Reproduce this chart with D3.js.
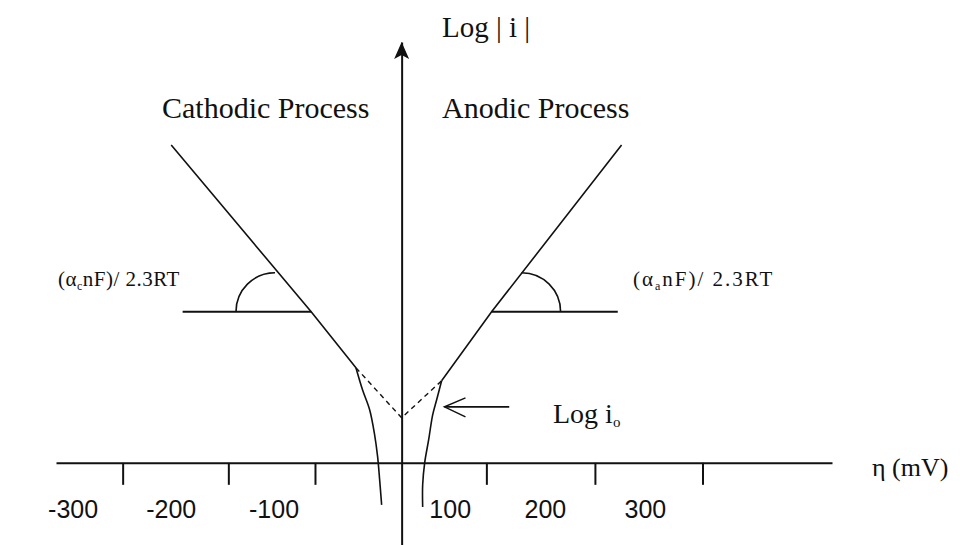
<!DOCTYPE html>
<html><head><meta charset="utf-8">
<script src="https://cdn.jsdelivr.net/npm/d3@7"></script>
<style>
html,body{margin:0;padding:0;background:#fff;}
svg{display:block;}
.serif{font-family:"Liberation Serif","Times New Roman",serif;fill:#111;}
.sans{font-family:"Liberation Sans",Arial,sans-serif;fill:#111;}
</style></head><body>
<svg id="chart" width="964" height="545"></svg>
<script>
// Tafel diagram: overpotential η (mV) against log|i| (arbitrary units)
const tickMarks = [-293, -182, -91, 89, 203, 316];
const tickLabels = ["-300", "-200", "-100", "100", "200", "300"];
const tickLabelEta = [-345, -242, -134, 51, 151, 256];

// straight Tafel regions
const cathodicTafel = [[-242, 7.55], [-95, 3.59], [-48, 2.26]];
const anodicTafel = [[42, 1.95], [94.5, 3.59], [231, 7.55]];
// low-overpotential branches bending away from the Tafel lines
const cathodicCurve = [[-48, 2.26], [-41, 1.73], [-33.6, 1.26], [-28.4, 0.67], [-25.2, 0.14], [-23.1, -0.40], [-21, -1.0]];
const anodicCurve = [[42, 1.95], [36.8, 1.50], [32.6, 1.14], [28.4, 0.55], [24.2, 0], [22.1, -0.52], [22.1, -1.05]];
// extrapolation of both Tafel lines to η = 0 (log i0)
const extrapolation = [[-48, 2.26], [0, 1.07], [42, 1.95]];
// horizontal references for the slope angles
const cathodicRef = [[-230, 3.59], [-95, 3.59]];
const anodicRef = [[94.5, 3.59], [227, 3.59]];
const slopeArcCentres = [[-133, 3.59], [126, 3.59]];
// pointer to log i0
const i0Arrow = [[113, 1.33], [45, 1.33]];

const svg = d3.select("#chart");
const x = d3.scaleLinear().domain([-363, 452]).range([56, 832]);
const y = d3.scaleLinear().domain([-2, 10]).range([547, 42]);
const line = d3.line().x(d => x(d[0])).y(d => y(d[1]));
const smooth = d3.line().x(d => x(d[0])).y(d => y(d[1])).curve(d3.curveCatmullRom);
const ink = "#111";

// η axis
const xAxis = svg.append("g")
  .attr("transform", `translate(0,${y(0)})`)
  .call(d3.axisBottom(x).tickValues(tickMarks).tickFormat("").tickSize(22).tickSizeOuter(0));
xAxis.select(".domain").attr("stroke", ink).attr("stroke-width", 2);
xAxis.selectAll(".tick line").attr("stroke", ink).attr("stroke-width", 2);

svg.append("g").selectAll("text").data(tickLabels).join("text")
  .attr("class", "sans")
  .attr("x", (d, i) => x(tickLabelEta[i]))
  .attr("y", 518)
  .attr("text-anchor", "middle")
  .attr("font-size", 25)
  .text(d => d);

// log|i| axis
const yAxis = svg.append("g")
  .attr("transform", `translate(${x(0)},0)`)
  .call(d3.axisLeft(y).tickValues([]).tickSizeOuter(0));
yAxis.select(".domain").attr("stroke", ink).attr("stroke-width", 2);
const tipX = x(0), tipY = y(10);
svg.append("path")
  .attr("d", `M${tipX},${tipY} L${tipX + 7.5},${tipY + 17} L${tipX},${tipY + 13} L${tipX - 7.5},${tipY + 17} Z`)
  .attr("fill", ink);

// Tafel lines and curved branches
[cathodicTafel, anodicTafel].forEach(d => {
  svg.append("path").attr("d", line(d)).attr("fill", "none").attr("stroke", ink).attr("stroke-width", 1.6);
});
[cathodicCurve, anodicCurve].forEach(d => {
  svg.append("path").attr("d", smooth(d)).attr("fill", "none").attr("stroke", ink).attr("stroke-width", 1.6);
});
svg.append("path").attr("d", line(extrapolation)).attr("fill", "none")
  .attr("stroke", ink).attr("stroke-width", 1.4).attr("stroke-dasharray", "5,4");

// reference lines and slope angles
[cathodicRef, anodicRef].forEach(d => {
  svg.append("path").attr("d", line(d)).attr("fill", "none").attr("stroke", ink).attr("stroke-width", 2);
});
const r = 39;
const pc = d3.path();
pc.moveTo(x(slopeArcCentres[0][0]) - r, y(slopeArcCentres[0][1]));
pc.arc(x(slopeArcCentres[0][0]), y(slopeArcCentres[0][1]), r, Math.PI, 1.5 * Math.PI, false);
const pa = d3.path();
pa.moveTo(x(slopeArcCentres[1][0]) + r, y(slopeArcCentres[1][1]));
pa.arc(x(slopeArcCentres[1][0]), y(slopeArcCentres[1][1]), r, 0, -0.5 * Math.PI, true);
[pc, pa].forEach(p => svg.append("path").attr("d", p.toString()).attr("fill", "none").attr("stroke", ink).attr("stroke-width", 1.6));

// arrow pointing at log i0
svg.append("path").attr("d", line(i0Arrow)).attr("stroke", ink).attr("stroke-width", 1.8);
const ax = x(i0Arrow[1][0]), ay = y(i0Arrow[1][1]);
svg.append("path")
  .attr("d", `M${ax + 21},${ay - 9} L${ax},${ay} L${ax + 21},${ay + 10}`)
  .attr("fill", "none").attr("stroke", ink).attr("stroke-width", 1.5);

// labels
function label(txt, px, py, size) {
  return svg.append("text").attr("class", "serif").attr("x", px).attr("y", py).attr("font-size", size).text(txt);
}
label("Log | i |", 442, 37, 29);
label("Cathodic Process", 162, 118, 30);
label("Anodic Process", 442, 118, 30);

function slopeLabel(px, sub, spacing) {
  const t = svg.append("text").attr("class", "serif").attr("x", px).attr("y", 286)
    .attr("font-size", 21).attr("letter-spacing", spacing);
  t.append("tspan").text("(α");
  t.append("tspan").attr("font-size", 12).attr("dy", 4).text(sub);
  t.append("tspan").attr("dy", -4).text("nF)/ 2.3RT");
  return t;
}
slopeLabel(58, "c", 0.5);
slopeLabel(633, "a", 2);

const li = svg.append("text").attr("class", "serif").attr("x", 553).attr("y", 423).attr("font-size", 28);
li.append("tspan").text("Log i");
li.append("tspan").attr("font-size", 15).attr("dy", 4).text("o");

label("η  (mV)", 872, 476, 26);
</script>
</body></html>
